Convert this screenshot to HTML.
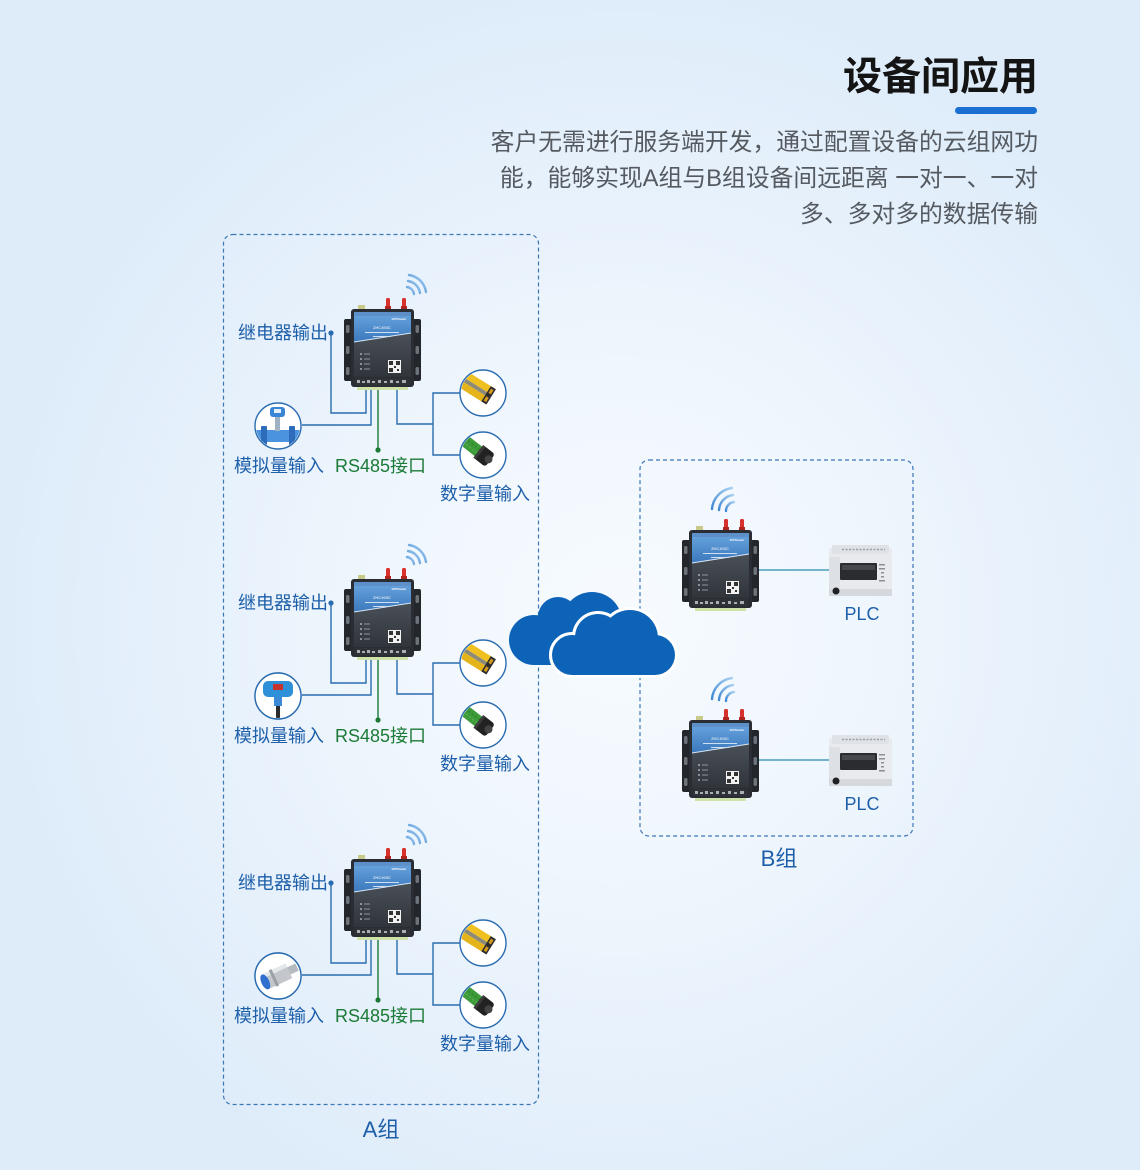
<!DOCTYPE html>
<html><head><meta charset="utf-8">
<style>
html,body{margin:0;padding:0;}
body{width:1140px;height:1170px;overflow:hidden;
background:radial-gradient(ellipse 620px 640px at 620px 620px,#f7fbfe 0%,#eff6fd 40%,#e5f0fb 75%,#deecfa 100%);}
svg{display:block;}
text{font-family:"Liberation Sans","Noto Sans CJK SC",sans-serif;}
</style></head>
<body>
<svg width="1140" height="1170" viewBox="0 0 1140 1170" xmlns="http://www.w3.org/2000/svg">
<defs>
  <linearGradient id="bluePanel" x1="0" y1="0" x2="0" y2="1">
    <stop offset="0" stop-color="#6aa6df"/>
    <stop offset="1" stop-color="#3b78bd"/>
  </linearGradient>
  <linearGradient id="lowerPanel" x1="0" y1="0" x2="0" y2="1">
    <stop offset="0" stop-color="#4a5058"/>
    <stop offset="1" stop-color="#30353b"/>
  </linearGradient>
  <linearGradient id="wifiG" x1="0" y1="1" x2="1" y2="0">
    <stop offset="0" stop-color="#3f88d2"/>
    <stop offset="1" stop-color="#a9d0f2"/>
  </linearGradient>
  <g id="dev">
    <!-- antennas -->
    <rect x="7" y="-4" width="7" height="5" fill="#c9c98a"/>
    <rect x="35" y="-11" width="4" height="12" rx="1.5" fill="#d8302c"/>
    <rect x="51" y="-11" width="4" height="12" rx="1.5" fill="#d8302c"/>
    <rect x="34" y="-3" width="6" height="3" fill="#b02520"/>
    <rect x="50" y="-3" width="6" height="3" fill="#b02520"/>
    <!-- ears -->
    <rect x="-7" y="10" width="9" height="62" rx="2" fill="#23272c"/>
    <rect x="61" y="10" width="9" height="62" rx="2" fill="#23272c"/>
    <rect x="-5" y="16" width="3.5" height="8" rx="1.5" fill="#6c737b"/>
    <rect x="-5" y="37" width="3.5" height="8" rx="1.5" fill="#6c737b"/>
    <rect x="-5" y="58" width="3.5" height="8" rx="1.5" fill="#6c737b"/>
    <rect x="64.5" y="16" width="3.5" height="8" rx="1.5" fill="#6c737b"/>
    <rect x="64.5" y="37" width="3.5" height="8" rx="1.5" fill="#6c737b"/>
    <rect x="64.5" y="58" width="3.5" height="8" rx="1.5" fill="#6c737b"/>
    <!-- body -->
    <rect x="0" y="0" width="63" height="78" rx="3" fill="#2a2e34"/>
    <polygon points="3,3 60,3 60,24 3,33" fill="url(#bluePanel)"/>
    <polygon points="3,33 60,24 60,68 3,68" fill="url(#lowerPanel)"/>
    <line x1="3" y1="33" x2="60" y2="24" stroke="#d8e6f3" stroke-width="1"/>
    <rect x="3" y="3" width="57" height="4" fill="#5d90c8"/>
    <text x="31" y="20" font-size="4" fill="#ffffff" text-anchor="middle">ZHC493C</text>
    <text x="48" y="11" font-size="3" fill="#ffffff" text-anchor="middle" font-weight="bold">IOTRouter</text>
    <rect x="14" y="23" width="34" height="1" fill="#cfe0f2"/>
    <rect x="22" y="27" width="18" height="1" fill="#cfe0f2"/>
    <!-- leds -->
    <circle cx="10" cy="45" r="0.9" fill="#c9cdd2"/>
    <circle cx="10" cy="50" r="0.9" fill="#c9cdd2"/>
    <circle cx="10" cy="55" r="0.9" fill="#c9cdd2"/>
    <circle cx="10" cy="60" r="0.9" fill="#c9cdd2"/>
    <rect x="13" y="44.5" width="6" height="1" fill="#8d949b"/>
    <rect x="13" y="49.5" width="6" height="1" fill="#8d949b"/>
    <rect x="13" y="54.5" width="6" height="1" fill="#8d949b"/>
    <rect x="13" y="59.5" width="6" height="1" fill="#8d949b"/>
    <!-- QR -->
    <rect x="37" y="51" width="13" height="13" fill="#f2f2f2"/>
    <rect x="38" y="52" width="4" height="4" fill="#333"/>
    <rect x="45" y="52" width="4" height="4" fill="#333"/>
    <rect x="38" y="59" width="4" height="4" fill="#333"/>
    <rect x="43" y="57" width="2" height="2" fill="#333"/>
    <rect x="46" y="60" width="2" height="2" fill="#333"/>
    <!-- terminals -->
    <rect x="4" y="69" width="55" height="7" fill="#2f3338"/>
    <g fill="#aab0b6">
      <rect x="6" y="71" width="3" height="3"/><rect x="11" y="72" width="3" height="2"/>
      <rect x="16" y="71" width="3" height="3"/><rect x="21" y="72" width="3" height="2"/>
      <rect x="27" y="71" width="3" height="3"/><rect x="33" y="72" width="3" height="2"/>
      <rect x="39" y="71" width="3" height="3"/><rect x="45" y="72" width="3" height="2"/>
      <rect x="51" y="71" width="4" height="3"/>
    </g>
    <rect x="6" y="78" width="51" height="3" fill="#cfe2a8"/>
  </g>
  <g id="plc">
    <rect x="0" y="3" width="63" height="48" rx="2" fill="#e8eaed"/>
    <rect x="3" y="0" width="57" height="9" rx="1" fill="#dfe2e6"/>
    <line x1="13" y1="4.5" x2="56" y2="4.5" stroke="#9aa0a6" stroke-width="1.5" stroke-dasharray="2 1.5"/>
    <rect x="0" y="12" width="11" height="39" fill="#dde0e4"/>
    <rect x="11" y="18" width="37" height="17" rx="1" fill="#2a2c30"/>
    <rect x="13" y="20" width="33" height="5" fill="#45484d"/>
    <g fill="#8a9097">
      <rect x="50" y="19" width="6" height="1.5"/><rect x="50" y="23" width="6" height="1.5"/>
      <rect x="52" y="27" width="3" height="1.5"/><rect x="52" y="31" width="3" height="1.5"/>
      <rect x="50" y="35" width="6" height="1.5"/>
    </g>
    <rect x="0" y="44" width="63" height="7" fill="#d5d8dc"/>
    <circle cx="7" cy="46" r="3.5" fill="#1f2124"/>
  </g>
  <g id="yellow">
    <g transform="rotate(32)">
      <rect x="-36" y="-10" width="40" height="7" fill="#f0c020"/>
      <rect x="-36" y="-3" width="40" height="4" fill="#8d8a78"/>
      <rect x="-36" y="1" width="40" height="7" fill="#e5b41a"/>
      <rect x="3" y="-10" width="6" height="18" fill="#2c2c2c"/>
      <rect x="4.5" y="-8" width="3" height="5" fill="#d49a20"/>
      <rect x="4.5" y="1" width="3" height="5" fill="#d49a20"/>
    </g>
  </g>
  <g id="green">
    <g transform="rotate(38)">
      <rect x="-38" y="-6" width="34" height="12" fill="#3d9b3a"/>
      <line x1="-36" y1="-2" x2="-6" y2="-2" stroke="#2b7d2b" stroke-width="1" stroke-dasharray="2 2"/>
      <line x1="-36" y1="2" x2="-6" y2="2" stroke="#5bb556" stroke-width="1" stroke-dasharray="2 2"/>
      <rect x="-6" y="-8" width="15" height="16" rx="3" fill="#222"/>
      <rect x="-6" y="-8" width="3" height="16" fill="#3a3a3a"/>
      <circle cx="7" cy="0" r="4" fill="#444"/>
    </g>
  </g>
  <clipPath id="cc"><circle cx="0" cy="0" r="22"/></clipPath>
</defs>

<!-- Title -->
<text x="1038" y="90" font-size="39" font-weight="bold" fill="#141414" text-anchor="end">设备间应用</text>
<rect x="955" y="107" width="82" height="7" rx="3.5" fill="#1b6fd2"/>
<g font-size="23.8" fill="#555a60" text-anchor="end">
  <text x="1038" y="150">客户无需进行服务端开发，通过配置设备的云组网功</text>
  <text x="1038" y="186">能，能够实现A组与B组设备间远距离 一对一、一对</text>
  <text x="1038" y="222">多、多对多的数据传输</text>
</g>

<!-- Group boxes -->
<rect x="223.5" y="234.5" width="315" height="870" rx="9" fill="none" stroke="#3b76b6" stroke-width="1.2" stroke-dasharray="4 3"/>
<rect x="640" y="460" width="273" height="376" rx="9" fill="none" stroke="#3b76b6" stroke-width="1.2" stroke-dasharray="4 3"/>

<!-- A group units -->
<g id="unitA">
  <g fill="none" stroke="#2a6cb0" stroke-width="1.4">
    <polyline points="331,333 331,413 366,413 366,388"/>
    <polyline points="302,425 371,425 371,388"/>
    <polyline points="397,388 397,424 433,424"/>
    <polyline points="460,393 433,393 433,455 460,455"/>
  </g>
  <line x1="378" y1="388" x2="378" y2="450" stroke="#1b7a35" stroke-width="1.4"/>
  <circle cx="378" cy="450" r="2.6" fill="#1b7a35"/>
  <circle cx="331" cy="333" r="2.6" fill="#2a6cb0"/>
  <use href="#dev" x="351" y="309"/>
  <g fill="none" stroke="url(#wifiG)" stroke-width="2.4" stroke-linecap="round">
    <path d="M407,287 A8,8 0 0 1 414,294"/>
    <path d="M408,281 A14,14 0 0 1 420,293"/>
    <path d="M409,275 A20,20 0 0 1 426,292"/>
  </g>
  <!-- digital circles -->
  <circle cx="483" cy="393" r="23" fill="#fff" stroke="#2a6cb0" stroke-width="1.4"/>
  <g transform="translate(483,393)" clip-path="url(#cc)"><use href="#yellow"/></g>
  <circle cx="483" cy="455" r="23" fill="#fff" stroke="#2a6cb0" stroke-width="1.4"/>
  <g transform="translate(483,455)" clip-path="url(#cc)"><use href="#green"/></g>
  <circle cx="278" cy="426" r="23" fill="#fff" stroke="#2a6cb0" stroke-width="1.4"/>
  <g font-size="18">
    <text x="238" y="339" fill="#1e5fa9">继电器输出</text>
    <text x="234" y="472" fill="#1e5fa9">模拟量输入</text>
    <text x="335" y="472" fill="#1b7a35">RS485接口</text>
    <text x="440" y="500" fill="#1e5fa9">数字量输入</text>
  </g>
</g>
<!-- flow meter -->
<g transform="translate(278,426)" clip-path="url(#cc)">
  <rect x="-22" y="4" width="44" height="12" fill="#4b93de"/>
  <rect x="-17" y="0" width="6" height="20" rx="1" fill="#2c6cba"/>
  <rect x="11" y="0" width="6" height="20" rx="1" fill="#2c6cba"/>
  <rect x="-3" y="-10" width="5" height="15" fill="#9fb2c4"/>
  <rect x="-8" y="-19" width="15" height="10" rx="3" fill="#3a86d6"/>
  <rect x="-4" y="-17" width="7" height="4" fill="#e6f0fa"/>
</g>

<use href="#unitA" y="270"/>
<use href="#unitA" y="550"/>

<!-- cover group-1 flow meter copies with other analog sensors -->
<circle cx="278" cy="696" r="23" fill="#fff" stroke="#2a6cb0" stroke-width="1.4"/>
<g transform="translate(278,696)" clip-path="url(#cc)">
  <rect x="-2" y="8" width="4" height="16" fill="#2b2b2b"/>
  <rect x="-4" y="0" width="8" height="10" fill="#3a8ad5"/>
  <rect x="-15" y="-15" width="30" height="16" rx="5" fill="#2e90d9"/>
  <rect x="-5" y="-12" width="10" height="6" fill="#c8322c"/>
</g>
<circle cx="278" cy="976" r="23" fill="#fff" stroke="#2a6cb0" stroke-width="1.4"/>
<g transform="translate(278,976)" clip-path="url(#cc)">
  <g transform="rotate(-25)">
    <rect x="-14" y="-8" width="26" height="16" fill="#c3c7cc"/>
    <rect x="-14" y="-8" width="26" height="4" fill="#e4e7ea"/>
    <rect x="-6" y="-9" width="3" height="18" fill="#9aa0a6"/>
    <rect x="12" y="-4" width="9" height="8" fill="#b5babf"/>
    <ellipse cx="-14" cy="0" rx="4" ry="8" fill="#2f6fd0"/>
  </g>
</g>

<!-- B group -->
<g fill="none" stroke="#2a8ab0" stroke-width="1.3">
  <line x1="759" y1="570" x2="829" y2="570"/>
  <line x1="759" y1="760" x2="829" y2="760"/>
</g>
<use href="#dev" x="689" y="530"/>
<use href="#dev" x="689" y="720"/>
<g fill="none" stroke="url(#wifiG)" stroke-width="2.4" stroke-linecap="round">
  <path d="M726,511 A9,9 0 0 1 734,502"/>
  <path d="M719,510 A16,16 0 0 1 733,495"/>
  <path d="M712,509 A23,23 0 0 1 732,488"/>
  <path d="M726,701 A9,9 0 0 1 734,692"/>
  <path d="M719,700 A16,16 0 0 1 733,685"/>
  <path d="M712,699 A23,23 0 0 1 732,678"/>
</g>
<use href="#plc" x="829" y="545"/>
<use href="#plc" x="829" y="735"/>
<g font-size="18" fill="#1e5fa9" text-anchor="middle">
  <text x="862" y="620">PLC</text>
  <text x="862" y="810">PLC</text>
</g>
<g font-size="22" fill="#1e5fa9" text-anchor="middle">
  <text x="779" y="866">B组</text>
  <text x="381" y="1137">A组</text>
</g>

<!-- Clouds -->
<g fill="#0d63b7">
  <circle cx="534" cy="640" r="25"/>
  <circle cx="558" cy="617" r="20"/>
  <circle cx="592" cy="622" r="30"/>
  <circle cx="617" cy="642" r="23"/>
  <rect x="534" y="640" width="83" height="25"/>
</g>
<g fill="#fff" stroke="#fff" stroke-width="6">
  <circle cx="572" cy="655" r="20"/>
  <circle cx="598" cy="637" r="23"/>
  <circle cx="630" cy="638" r="28"/>
  <circle cx="655" cy="655" r="20"/>
  <rect x="572" y="640" width="83" height="35"/>
</g>
<g fill="#0d63b7">
  <circle cx="572" cy="655" r="20"/>
  <circle cx="598" cy="637" r="23"/>
  <circle cx="630" cy="638" r="28"/>
  <circle cx="655" cy="655" r="20"/>
  <rect x="572" y="640" width="83" height="35"/>
</g>
</svg>
</body></html>
